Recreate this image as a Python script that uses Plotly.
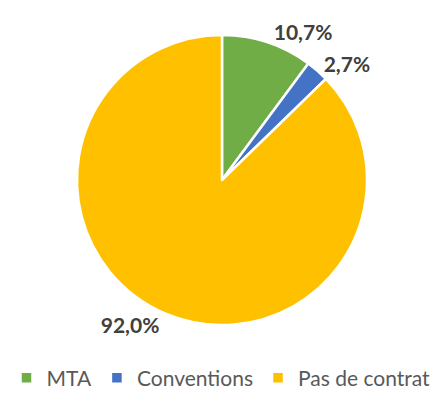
import plotly.graph_objects as go

labels = ["MTA", "Conventions", "Pas de contrat"]
values = [10.7, 2.7, 92.0]
texts = ["10,7%", "2,7%", "92,0%"]
colors = ["#70AD47", "#4472C4", "#FFC000"]

fig = go.Figure(go.Pie(
    labels=labels,
    values=values,
    text=texts,
    textinfo="text",
    textposition="outside",
    sort=False,
    direction="clockwise",
    rotation=0,
    marker=dict(colors=colors, line=dict(color="white", width=2.5)),
    outsidetextfont=dict(family="Lato", size=21, color="#404040", weight="bold"),
    domain=dict(x=[77/442, 367/442], y=[1-325/412, 1-35/412]),
    hoverinfo="label+text",
))

fig.update_layout(
    width=442, height=412,
    margin=dict(l=0, r=0, t=0, b=0),
    paper_bgcolor="white",
    plot_bgcolor="white",
    showlegend=True,
    legend=dict(orientation="h", x=0.5, xanchor="center", y=1-378/412, yanchor="middle",
                font=dict(family="Lato", size=21, color="#595959"), itemwidth=30,
                traceorder="normal"),
)

fig.write_html("out.html", config={"displayModeBar": False},
               post_script="document.body.style.margin='0px';")
